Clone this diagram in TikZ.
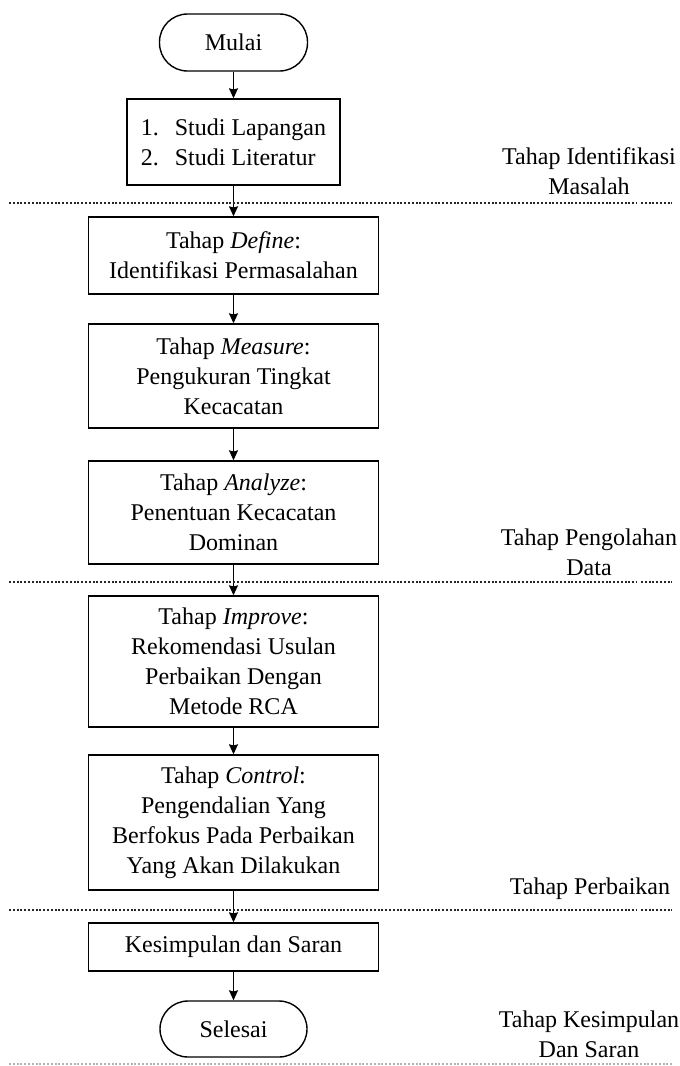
\documentclass[tikz,border=0pt]{standalone}
\usepackage{fontspec}
\setmainfont{Liberation Serif}
\usetikzlibrary{arrows.meta}
\tikzset{
  prosesbox/.style={draw, line width=0.7pt, minimum width=145pt, inner sep=2pt, align=center, font=\fontsize{12}{15}\selectfont},
  terminal/.style={prosesbox, rounded corners=14pt, minimum width=74pt, minimum height=28.5pt},
  tahaplabel/.style={align=center, inner sep=0pt, font=\fontsize{12}{15}\selectfont},
  batas/.style={line width=1pt, dash pattern=on 1pt off 0.9pt, black!85},
  alur/.style={->, >={Stealth[length=5pt,width=4.5pt,inset=0.6pt]}, line width=0.6pt}
}
\begin{document}
\begin{tikzpicture}[x=0.5pt,y=-0.5pt]
    \useasboundingbox (0,0) rectangle (680,1066);
    % alur utama
    \node[terminal] (mulai) at (233.5,42.5) {Mulai};
    \node[prosesbox, align=left, minimum width=106.5pt, minimum height=43pt] (studi) at (233.5,142) {1.\hspace{8pt}Studi Lapangan\\2.\hspace{8pt}Studi Literatur};
    \node[prosesbox, minimum height=38.5pt] (define) at (233.5,255.5) {Tahap \textit{Define}:\\Identifikasi Permasalahan};
    \node[prosesbox, minimum height=52pt] (measure) at (233.5,376) {Tahap \textit{Measure}:\\Pengukuran Tingkat\\Kecacatan};
    \node[prosesbox, minimum height=51.5pt] (analyze) at (233.5,512.5) {Tahap \textit{Analyze}:\\Penentuan Kecacatan\\Dominan};
    \node[prosesbox, minimum height=65.5pt] (improve) at (233.5,661.5) {Tahap \textit{Improve}:\\Rekomendasi Usulan\\Perbaikan Dengan\\Metode RCA};
    \node[prosesbox, minimum height=67.5pt] (control) at (233.5,822.5) {Tahap \textit{Control}:\\Pengendalian Yang\\Berfokus Pada Perbaikan\\Yang Akan Dilakukan};
    \node[prosesbox, minimum height=24pt] (kesimpulan) at (233.5,947) {Kesimpulan dan Saran};
    \node[terminal, minimum width=73.5pt, minimum height=28pt] (selesai) at (233.5,1029) {Selesai};
    \draw[alur] (mulai) -- (studi);
    \draw[alur] (studi) -- (define);
    \draw[alur] (define) -- (measure);
    \draw[alur] (measure) -- (analyze);
    \draw[alur] (analyze) -- (improve);
    \draw[alur] (improve) -- (control);
    \draw[alur] (control) -- (kesimpulan);
    \draw[alur] (kesimpulan) -- (selesai);
    % garis batas tahap
    \foreach \yb in {203,582,910}{
        \draw[batas] (9,\yb) -- (637,\yb);
        \draw[batas] (641,\yb) -- (672,\yb);
    }
    \draw[batas, black!30] (9,1064) -- (672,1064);
    % label tahap
    \node[tahaplabel] (tahapident) at (589,171) {Tahap Identifikasi\\Masalah};
    \node[tahaplabel] (tahapolah) at (589,552) {Tahap Pengolahan\\Data};
    \node[tahaplabel] (tahapbaik) at (590,889) {Tahap Perbaikan};
    \node[tahaplabel] (tahapsimpul) at (589,1034) {Tahap Kesimpulan\\Dan Saran};
\end{tikzpicture}
\end{document}
